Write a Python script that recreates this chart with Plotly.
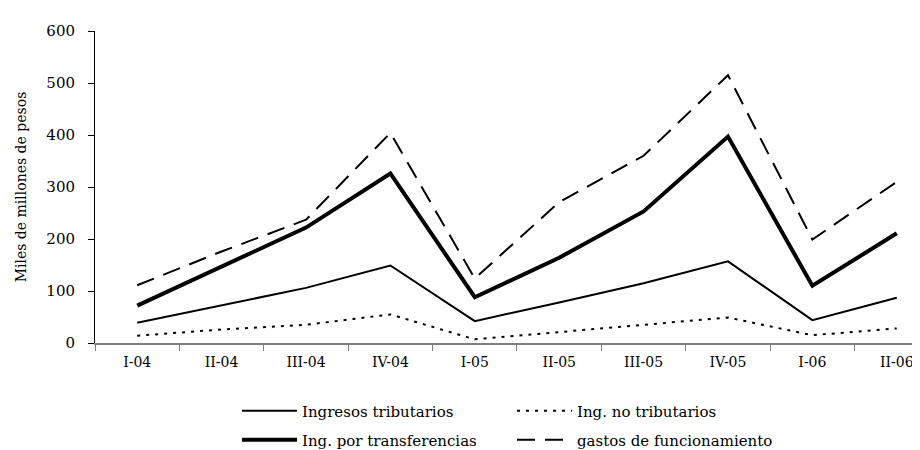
import plotly.graph_objects as go

categories = ["I-04", "II-04", "III-04", "IV-04", "I-05", "II-05", "III-05", "IV-05", "I-06", "II-06"]
tributarios = [39, 72, 106, 149, 42, 78, 115, 157, 44, 87]
no_tributarios = [14, 26, 35, 55, 7, 21, 36, 49, 15, 28]
transferencias = [72, 147, 222, 326, 88, 164, 253, 397, 110, 211]
gastos = [111, 176, 237, 404, 124, 271, 360, 515, 199, 310]
y_ticks = [0, 100, 200, 300, 400, 500, 600]

FONT = "DejaVu Serif"

fig = go.Figure()
fig.add_trace(go.Scatter(x=categories, y=tributarios, mode="lines", name="Ingresos tributarios",
                         line=dict(color="black", width=2), legend="legend"))
fig.add_trace(go.Scatter(x=categories, y=no_tributarios, mode="lines", name="Ing. no tributarios",
                         line=dict(color="black", width=2, dash="3px,6px"), legend="legend"))
fig.add_trace(go.Scatter(x=categories, y=transferencias, mode="lines", name="Ing. por transferencias",
                         line=dict(color="black", width=4), legend="legend2"))
fig.add_trace(go.Scatter(x=categories, y=gastos, mode="lines", name="gastos de funcionamiento",
                         line=dict(color="black", width=2, dash="18px,10px"), legend="legend2"))

legend_common = dict(orientation="h", xref="container", yref="container", x=229 / 920,
                     xanchor="left", yanchor="middle", font=dict(family=FONT, size=15, color="black"),
                     itemwidth=55, entrywidth=205, entrywidthmode="pixels",
                     bgcolor="rgba(0,0,0,0)", tracegroupgap=0, itemclick=False)

fig.update_layout(
    width=920, height=450,
    margin=dict(l=87, r=0, t=23, b=115),
    paper_bgcolor="white", plot_bgcolor="white",
    font=dict(family=FONT, size=15, color="black"),
    showlegend=True,
    legend=dict(**legend_common, y=1 - 403 / 450),
    legend2=dict(**legend_common, y=1 - 432 / 450),
    xaxis=dict(
        type="category", categoryorder="array", categoryarray=categories,
        range=[-0.5, 9.37], tickson="boundaries", ticks="outside", ticklen=6,
        tickcolor="#808080", showline=True, linecolor="#808080", linewidth=2,
        showgrid=False, zeroline=False, ticklabelstandoff=5,
        tickfont=dict(family=FONT, size=14, color="black"),
    ),
    yaxis=dict(
        range=[0, 600], tickvals=y_ticks, ticks="outside", ticklen=6, tickcolor="black",
        showline=True, linecolor="black", linewidth=1, showgrid=False, zeroline=False,
        ticklabelstandoff=10,
        tickfont=dict(family=FONT, size=15, color="black"),
        title=dict(text="Miles de millones de pesos", font=dict(family=FONT, size=14, color="black"),
                   standoff=16),
    ),
)

fig.write_html("out.html")
